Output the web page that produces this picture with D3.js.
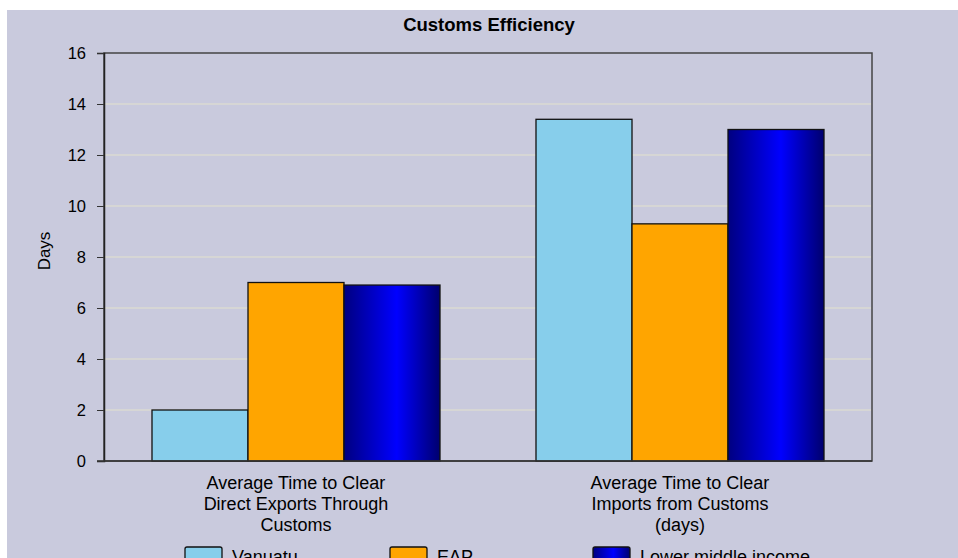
<!DOCTYPE html>
<html>
<head>
<meta charset="utf-8">
<script src="https://cdn.jsdelivr.net/npm/d3@7"></script>
<style>
  html, body { margin: 0; padding: 0; background: #fff; }
  svg { display: block; }
  text { font-family: "Liberation Sans", Arial, sans-serif; fill: #000; }
</style>
</head>
<body>
<script>
// Data
const categories = [
  ["Average Time to Clear", "Direct Exports Through", "Customs"],
  ["Average Time to Clear", "Imports from Customs", "(days)"],
];
const seriesNames = ["Vanuatu", "EAP", "Lower middle income"];
const vanuatu = [2.0, 13.4];
const eap = [7.0, 9.3];
const lowerMiddle = [6.9, 13.0];
const yTicks = [0, 2, 4, 6, 8, 10, 12, 14, 16];

const seriesValues = [vanuatu, eap, lowerMiddle];
const colors = ["#87ceeb", "#ffa500", "url(#lmiGrad)"];

const W = 958, H = 558;
const margin = { top: 53, right: 86, bottom: 97, left: 104 };
const width = W - margin.left - margin.right;
const height = H - margin.top - margin.bottom;

const svg = d3.select("body").append("svg").attr("width", W).attr("height", H);

// gradient for the third series
const grad = svg.append("defs").append("linearGradient")
  .attr("id", "lmiGrad").attr("x1", "0%").attr("x2", "100%").attr("y1", "0%").attr("y2", "0%");
grad.append("stop").attr("offset", "0%").attr("stop-color", "#000080");
grad.append("stop").attr("offset", "55%").attr("stop-color", "#0000ff");
grad.append("stop").attr("offset", "100%").attr("stop-color", "#00006e");

// background panel
svg.append("rect").attr("x", 7).attr("y", 10).attr("width", W - 7).attr("height", H - 10)
  .attr("fill", "#c9cadd");

// title
svg.append("text").attr("x", 489).attr("y", 31)
  .attr("text-anchor", "middle").style("font-size", "18.5px").style("font-weight", "bold")
  .text("Customs Efficiency");

const g = svg.append("g").attr("transform", `translate(${margin.left},${margin.top})`);

const x0 = d3.scaleBand().domain(d3.range(categories.length)).range([0, width]).paddingInner(0).paddingOuter(0);
const x1 = d3.scaleBand().domain(d3.range(seriesNames.length)).range([48, x0.bandwidth() - 48]);
const y = d3.scaleLinear().domain([0, 16]).range([height, 0]);

// gridlines
g.selectAll(".grid").data(yTicks.slice(1, -1)).enter().append("line")
  .attr("x1", 1).attr("x2", width - 1)
  .attr("y1", (d) => y(d)).attr("y2", (d) => y(d))
  .attr("stroke", "#dadad2").attr("stroke-width", 1.5);

// frame
g.append("rect").attr("width", width).attr("height", height)
  .attr("fill", "none").attr("stroke", "#444").attr("stroke-width", 1.5);

// bars
const groups = g.selectAll(".grp").data(categories).enter().append("g")
  .attr("transform", (d, i) => `translate(${x0(i)},0)`);

groups.each(function (c, ci) {
  d3.select(this).selectAll("rect").data(seriesValues.map((s) => s[ci])).enter().append("rect")
    .attr("x", (d, si) => x1(si))
    .attr("y", (d) => y(d))
    .attr("width", x1.bandwidth())
    .attr("height", (d) => height - y(d))
    .attr("fill", (d, si) => colors[si])
    .attr("stroke", "#111").attr("stroke-width", 1.3);
});

// Y axis
const yAxis = d3.axisLeft(y).tickValues(yTicks).tickSize(7).tickPadding(11);
const ya = g.append("g").call(yAxis);
ya.select(".domain").attr("stroke", "#222").attr("stroke-width", 1.5);
ya.selectAll(".tick line").attr("stroke", "#333");
ya.selectAll("text").style("font-size", "16.5px").attr("fill", "#000");

// Y label
g.append("text").attr("transform", `translate(-54,${y(8) - 6}) rotate(-90)`)
  .attr("text-anchor", "middle").style("font-size", "17px").text("Days");

// X axis baseline
g.append("line").attr("x1", -7).attr("x2", width).attr("y1", height).attr("y2", height)
  .attr("stroke", "#333").attr("stroke-width", 1.5);

// category labels
categories.forEach((lines, i) => {
  const cx = x0(i) + x0.bandwidth() / 2;
  const t = g.append("text").attr("x", cx).attr("y", height + 28)
    .attr("text-anchor", "middle").style("font-size", "18px");
  lines.forEach((l, k) => t.append("tspan").attr("x", cx).attr("dy", k === 0 ? 0 : 21).text(l));
});

// legend
const legendX = [185, 390, 593];
seriesNames.forEach((n, i) => {
  svg.append("rect").attr("x", legendX[i]).attr("y", 547).attr("width", 37).attr("height", 16)
    .attr("rx", 2)
    .attr("fill", colors[i]).attr("stroke", "#111").attr("stroke-width", 1.3);
  svg.append("text").attr("x", legendX[i] + 47).attr("y", 563).style("font-size", "18px").text(n);
});
</script>
</body>
</html>
